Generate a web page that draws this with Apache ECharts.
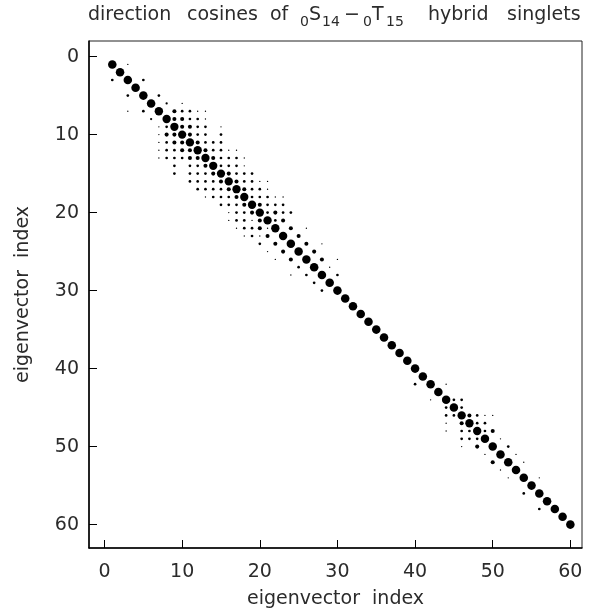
<!DOCTYPE html>
<html>
<head>
<meta charset="utf-8">
<script src="https://cdn.jsdelivr.net/npm/echarts@6/dist/echarts.min.js"></script>
<style>
  html, body { margin: 0; padding: 0; background: #fff; }
  #chart { width: 590px; height: 610px; }
</style>
</head>
<body>
<div id="chart"></div>
<script>
// Direction cosines between the 0S14 and 0T15 eigenvector sets.
// Dot diameter scales with |cos|: diagonal overlaps plus the off-diagonal mixing bands.

const tickValues = [0, 10, 20, 30, 40, 50, 60];

// |cos| on the diagonal, eigenvector 1..60
const diag = [
  0.95, 0.95, 0.95, 0.95, 0.95, 0.95, 0.94, 0.93, 0.92, 0.92,
  0.93, 0.93, 0.92, 0.92, 0.92, 0.92, 0.92, 0.92, 0.93, 0.93,
  0.93, 0.93, 0.94, 0.94, 0.94, 0.94, 0.95, 0.95, 0.95, 0.95,
  0.95, 0.95, 0.95, 0.95, 0.95, 0.95, 0.95, 0.95, 0.95, 0.95,
  0.95, 0.95, 0.95, 0.94, 0.94, 0.93, 0.93, 0.93, 0.94, 0.94,
  0.95, 0.95, 0.95, 0.95, 0.95, 0.95, 0.95, 0.95, 0.95, 0.95
];

// off-diagonal couplings [row, column, |cos|], first mixing band
const bandUpper = [
  [1, 3, 0.15],
  [3, 1, 0.3], [3, 5, 0.3],
  [5, 3, 0.3], [5, 7, 0.3],
  [6, 8, 0.25], [6, 10, 0.15],
  [7, 3, 0.15], [7, 5, 0.3], [7, 9, 0.45], [7, 10, 0.3], [7, 11, 0.3], [7, 12, 0.15], [7, 13, 0.15],
  [8, 6, 0.25], [8, 9, 0.45], [8, 10, 0.45], [8, 11, 0.3], [8, 12, 0.3], [8, 13, 0.15],
  [9, 7, 0.15], [9, 8, 0.3], [9, 10, 0.45], [9, 11, 0.45], [9, 12, 0.3], [9, 13, 0.3], [9, 15, 0.15],
  [10, 7, 0.15], [10, 8, 0.45], [10, 9, 0.45], [10, 11, 0.45], [10, 12, 0.3], [10, 13, 0.3], [10, 15, 0.3],
  [11, 7, 0.15], [11, 8, 0.3], [11, 9, 0.45], [11, 10, 0.45], [11, 12, 0.45], [11, 13, 0.3], [11, 14, 0.3], [11, 15, 0.3],
  [12, 7, 0.15], [12, 8, 0.3], [12, 9, 0.3], [12, 10, 0.45], [12, 11, 0.45], [12, 13, 0.45], [12, 14, 0.3], [12, 15, 0.3], [12, 16, 0.15], [12, 17, 0.15],
  [13, 7, 0.15], [13, 8, 0.3], [13, 9, 0.3], [13, 10, 0.3], [13, 11, 0.45], [13, 12, 0.45], [13, 14, 0.45], [13, 15, 0.3], [13, 16, 0.3], [13, 17, 0.3], [13, 18, 0.15],
  [14, 9, 0.3], [14, 11, 0.3], [14, 12, 0.3], [14, 13, 0.45], [14, 15, 0.3], [14, 16, 0.3], [14, 17, 0.3], [14, 18, 0.15],
  [15, 9, 0.3], [15, 11, 0.3], [15, 12, 0.3], [15, 13, 0.3], [15, 14, 0.45], [15, 16, 0.45], [15, 17, 0.3], [15, 18, 0.3], [15, 19, 0.3],
  [16, 11, 0.3], [16, 12, 0.3], [16, 13, 0.3], [16, 14, 0.3], [16, 15, 0.45], [16, 17, 0.45], [16, 18, 0.3], [16, 19, 0.3], [16, 20, 0.15], [16, 21, 0.15],
  [17, 12, 0.3], [17, 13, 0.3], [17, 14, 0.3], [17, 15, 0.3], [17, 16, 0.45], [17, 18, 0.45], [17, 19, 0.3], [17, 20, 0.3], [17, 21, 0.15],
  [18, 13, 0.15], [18, 14, 0.3], [18, 15, 0.3], [18, 16, 0.3], [18, 17, 0.45], [18, 19, 0.3], [18, 20, 0.3], [18, 21, 0.3], [18, 22, 0.15], [18, 23, 0.15],
  [19, 15, 0.3], [19, 16, 0.3], [19, 17, 0.3], [19, 18, 0.45], [19, 20, 0.45], [19, 21, 0.3], [19, 22, 0.3], [19, 23, 0.3],
  [20, 16, 0.15], [20, 17, 0.3], [20, 18, 0.3], [20, 19, 0.45], [20, 21, 0.3], [20, 22, 0.45], [20, 23, 0.3], [20, 24, 0.3],
  [21, 16, 0.15], [21, 17, 0.3], [21, 18, 0.3], [21, 19, 0.15], [21, 20, 0.45], [21, 22, 0.3], [21, 23, 0.45],
  [22, 17, 0.15], [22, 18, 0.3], [22, 19, 0.3], [22, 20, 0.45], [22, 21, 0.15], [22, 24, 0.45], [22, 26, 0.15],
  [23, 18, 0.15], [23, 19, 0.3], [23, 20, 0.15], [23, 21, 0.45], [23, 25, 0.45],
  [24, 20, 0.3], [24, 22, 0.45], [24, 26, 0.45], [24, 28, 0.15],
  [25, 21, 0.15], [25, 23, 0.45], [25, 27, 0.45],
  [26, 22, 0.15], [26, 24, 0.45], [26, 28, 0.45], [26, 30, 0.15],
  [27, 25, 0.3], [27, 29, 0.15],
  [28, 24, 0.15], [28, 26, 0.3], [28, 30, 0.3],
  [29, 27, 0.3],
  [30, 28, 0.3]
];

// off-diagonal couplings [row, column, |cos|], second mixing band
const bandLower = [
  [42, 40, 0.3], [42, 44, 0.15],
  [44, 42, 0.15], [44, 45, 0.3], [44, 46, 0.3],
  [45, 44, 0.3], [45, 46, 0.3],
  [46, 44, 0.3], [46, 45, 0.3], [46, 47, 0.45], [46, 48, 0.3], [46, 49, 0.15], [46, 50, 0.15],
  [47, 44, 0.15], [47, 46, 0.45], [47, 48, 0.3], [47, 49, 0.3],
  [48, 44, 0.15], [48, 46, 0.3], [48, 47, 0.3], [48, 49, 0.3], [48, 50, 0.45],
  [49, 46, 0.3], [49, 47, 0.3], [49, 48, 0.3], [49, 51, 0.15],
  [50, 46, 0.15], [50, 48, 0.45], [50, 52, 0.3],
  [51, 49, 0.15], [51, 53, 0.15],
  [52, 50, 0.45], [52, 54, 0.15],
  [53, 51, 0.15],
  [54, 52, 0.15], [54, 56, 0.15],
  [56, 54, 0.3],
  [58, 56, 0.3]
];

// scatter points as [column, row, |cos|]
const points = diag.map((v, i) => [i + 1, i + 1, v])
  .concat(bandUpper.map(e => [e[1], e[0], e[2]]))
  .concat(bandLower.map(e => [e[1], e[0], e[2]]));

const FONT = 'DejaVu Sans';
const INK = '#2b2b2b';

const chart = echarts.init(document.getElementById('chart'), null, { renderer: 'canvas' });

const axisCommon = {
  type: 'value',
  splitLine: { show: false },
  axisLine: { show: true, onZero: false, lineStyle: { color: '#000', width: 1.5 } },
  axisTick: { show: true, inside: true, length: 8, customValues: tickValues, lineStyle: { color: '#000', width: 1 } },
  axisLabel: { customValues: tickValues, color: INK, fontFamily: FONT, fontSize: 19 },
  nameLocation: 'middle',
  nameTextStyle: { color: INK, fontFamily: FONT, fontSize: 19 }
};

// title pieces: words and the subscripted state labels, laid out left to right
function titlePiece(text, x, sub) {
  return {
    type: 'text',
    x: x,
    y: sub ? 15 : 6,
    style: {
      text: text,
      fill: INK,
      font: (sub ? 14 : 19) + 'px "' + FONT + '"',
      textAlign: 'left',
      textVerticalAlign: 'top'
    }
  };
}

chart.setOption({
  animation: false,
  backgroundColor: '#fff',
  graphic: [
    titlePiece('direction', 88),
    titlePiece('cosines', 187),
    titlePiece('of', 270),
    titlePiece('0', 300, true),
    titlePiece('S', 309),
    titlePiece('14', 322, true),
    titlePiece('\u2212', 344),
    titlePiece('0', 363, true),
    titlePiece('T', 372),
    titlePiece('15', 386, true),
    titlePiece('hybrid', 428),
    titlePiece('singlets', 507)
  ],
  grid: {
    left: 89, right: 8, top: 41, bottom: 62,
    outerBoundsMode: 'none',
    containLabel: false,
    show: true, borderColor: '#222', borderWidth: 1, backgroundColor: 'transparent'
  },
  xAxis: Object.assign({}, axisCommon, {
    min: -2, max: 61.5, position: 'bottom',
    name: 'eigenvector  index', nameGap: 42,
    axisLabel: Object.assign({}, axisCommon.axisLabel, { margin: 15 })
  }),
  yAxis: Object.assign({}, axisCommon, {
    min: -2, max: 63, inverse: true, position: 'left',
    name: 'eigenvector  index', nameGap: 56,
    axisLabel: Object.assign({}, axisCommon.axisLabel, { margin: 10 })
  }),
  series: [{
    type: 'scatter',
    data: points,
    symbol: 'circle',
    symbolSize: d => 9 * d[2],
    itemStyle: { color: '#000', opacity: 1 },
    silent: true
  }]
});
</script>
</body>
</html>
